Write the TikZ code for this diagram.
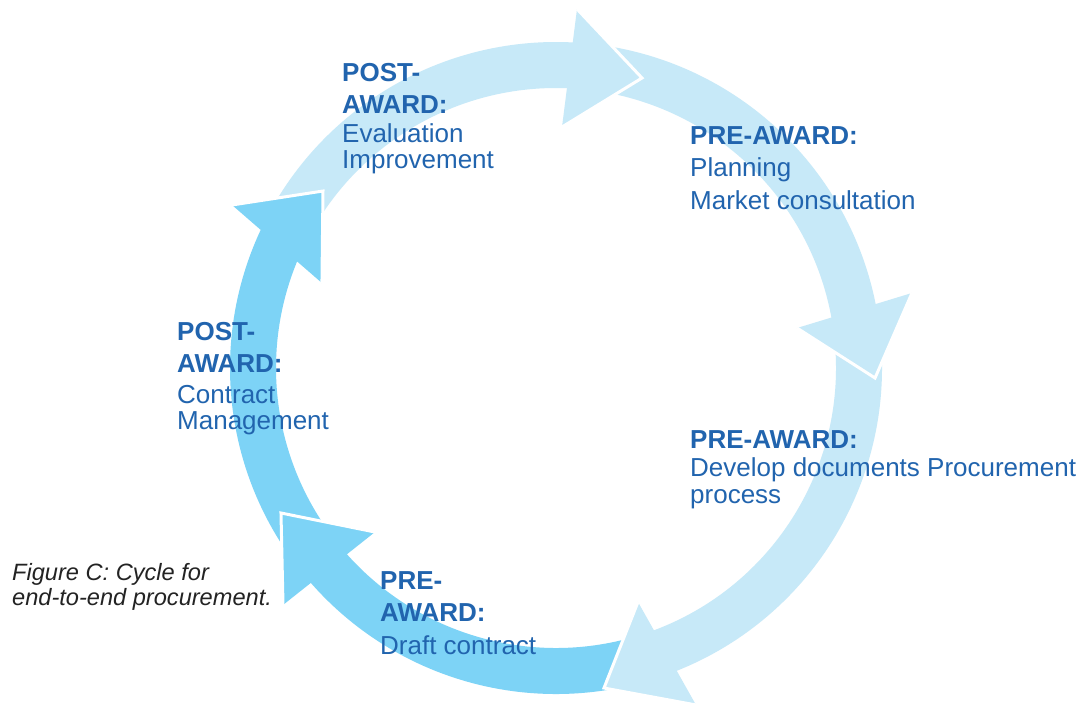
\documentclass[tikz,border=0pt]{standalone}
\usepackage{fontspec}
\setmainfont{Liberation Sans}
\usetikzlibrary{calc}

\definecolor{cyclelight}{RGB}{199,233,248}
\definecolor{cycledark}{RGB}{125,211,246}
\definecolor{stageblue}{RGB}{33,100,174}
\definecolor{captiongray}{RGB}{35,35,35}

\begin{document}
\begin{tikzpicture}[x=1pt, y=1pt,
    headedge/.style={draw=white, line width=3pt, line join=miter},
    stage/.style={text=stageblue, align=left, anchor=base west, inner sep=0pt,
                  font=\fontsize{26}{26}\selectfont},
    caption/.style={text=captiongray, align=left, anchor=base west, inner sep=0pt,
                    font=\fontsize{23.6}{25}\selectfont\itshape}]

    % Frame, centre of the ring at the origin
    \fill[white] (-556,-339) rectangle (528,368);
    \useasboundingbox (-556,-339) rectangle (528,368);

    % ---- Bands of the ring (outer radius 326, inner radius 280) ----
    % each band starts under the head before it and runs clockwise
    \fill[cyclelight] (154.8:326) arc[start angle=154.8, end angle=85.6, radius=326]
        -- (85.6:280) arc[start angle=85.6, end angle=154.8, radius=280] -- cycle;
    \fill[cyclelight] (86.1:326) arc[start angle=86.1, end angle=8.4, radius=326]
        -- (8.4:280) arc[start angle=8.4, end angle=86.1, radius=280] -- cycle;
    \fill[cyclelight] (9.4:326) arc[start angle=9.4, end angle=-71.7, radius=326]
        -- (-71.7:280) arc[start angle=-71.7, end angle=9.4, radius=280] -- cycle;
    \fill[cycledark] (-71:326) arc[start angle=-71, end angle=-140, radius=326]
        -- (-140:280) arc[start angle=-140, end angle=-71, radius=280] -- cycle;
    \fill[cycledark] (220.5:326) arc[start angle=220.5, end angle=152.3, radius=326]
        -- (152.3:280) arc[start angle=152.3, end angle=220.5, radius=280] -- cycle;

    % ---- Arrow heads (outer back corner, tip, inner back corner) ----
    % top: evaluation -> planning
    \fill[cyclelight] (86.65:359.6) -- (73.48:302.5) -- (88.57:241.1) -- cycle;
    \draw[headedge] (86.65:359.6) -- (73.48:302.5) -- (88.57:241.1);
    % right: planning -> documents
    \fill[cyclelight] (11.9:363.8) -- (-1.8:319.2) -- (9.42:244.3) -- cycle;
    \draw[headedge] (11.9:363.8) -- (-1.8:319.2) -- (9.42:244.3);
    % bottom right: documents -> contract
    \fill[cyclelight] (-67.44:364.9) -- (-81.47:323.6) -- (-70.69:247.95) -- cycle;
    \draw[headedge] (-67.44:364.9) -- (-81.47:323.6) -- (-70.69:247.95);
    % bottom left: draft contract -> management
    \fill[cycledark] (220.96:361.5) -- (207.8:310.9) -- (222.18:244.3) -- cycle;
    \draw[headedge] (220.96:361.5) -- (207.8:310.9) -- (222.18:244.3);
    % left: management -> evaluation
    \fill[cycledark] (153.29:362.7) -- (142.78:292.6) -- (160.04:249) -- cycle;
    \draw[headedge] (153.29:362.7) -- (142.78:292.6) -- (160.04:249);

    % ---- Stage labels (placed at the baseline of their last line) ----
    \node[stage] (evaluation) at (-214,199.7)
        {\textbf{POST-}\\[6.3pt]\textbf{AWARD:}\\[2.7pt]Evaluation\\[-0.4pt]Improvement};
    \node[stage] (planning) at (134,158.7)
        {\textbf{PRE-AWARD:}\\[5.7pt]Planning\\[6.6pt]Market consultation};
    \node[stage] (documents) at (134,-135.3)
        {\textbf{PRE-AWARD:}\\[2.4pt]Develop documents Procurement\\[0.6pt]process};
    \node[stage] (contract) at (-176,-286.3)
        {\textbf{PRE-}\\[6.4pt]\textbf{AWARD:}\\[6.6pt]Draft contract};
    \node[stage] (management) at (-379,-61.3)
        {\textbf{POST-}\\[6pt]\textbf{AWARD:}\\[4.6pt]Contract\\[0pt]Management};

    % Caption
    \node[caption] (figcaption) at (-544,-237)
        {Figure C: Cycle for\\end-to-end procurement.};

\end{tikzpicture}
\end{document}
